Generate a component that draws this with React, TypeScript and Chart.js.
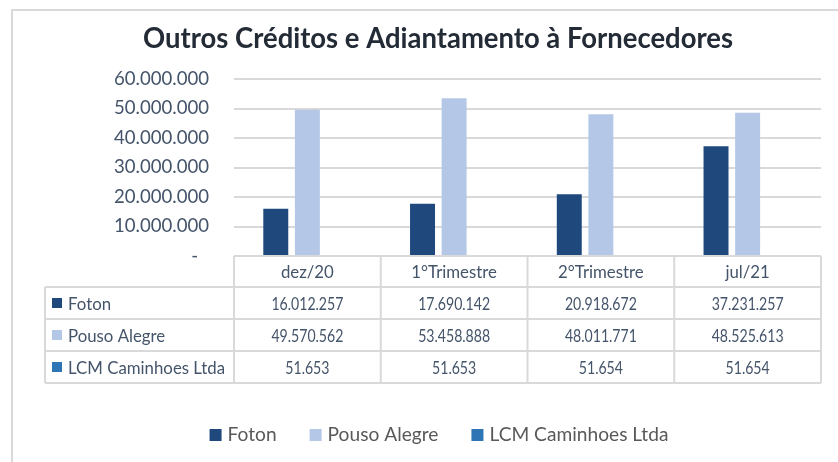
import React, { useEffect, useRef } from "react";
import { Chart, registerables } from "chart.js";

Chart.register(...registerables);

// ---- data ----
const TITLE = "Outros Créditos e Adiantamento à Fornecedores";
const categories = ["dez/20", "1°Trimestre", "2°Trimestre", "jul/21"];
const seriesNames = ["Foton", "Pouso Alegre", "LCM Caminhoes Ltda"];
const foton = [16012257, 17690142, 20918672, 37231257];
const pousoAlegre = [49570562, 53458888, 48011771, 48525613];
const lcmCaminhoes = [51653, 51653, 51654, 51654];
const yMin = 0;
const yMax = 60000000;
const yStep = 10000000;

// ---- styles ----
const seriesColors = ["#1F497D", "#B4C7E7", "#2E75B6"];
const FONT = "Lato, 'Open Sans', sans-serif";
const AXIS_TEXT = "#44546A";
const TABLE_TEXT = "#44546A";
const LEGEND_TEXT = "#595959";
const TITLE_TEXT = "#232B36";
const LINE = "#D9D9D9";

function fmt(n: number): string {
  return String(Math.round(n)).replace(/\B(?=(\d{3})+(?!\d))/g, ".");
}

function drawSqueezed(
  ctx: CanvasRenderingContext2D,
  text: string,
  x: number,
  y: number,
  font: string,
  sx: number,
  align: CanvasTextAlign,
  color: string
) {
  ctx.save();
  ctx.font = font;
  ctx.fillStyle = color;
  ctx.textAlign = align;
  ctx.textBaseline = "alphabetic";
  ctx.translate(x, y);
  ctx.scale(sx, 1);
  ctx.fillText(text, 0, 0);
  ctx.restore();
}

function ratio(ctx: CanvasRenderingContext2D, text: string, font: string, target: number) {
  ctx.save();
  ctx.font = font;
  const w = ctx.measureText(text).width;
  ctx.restore();
  return w > 0 ? target / w : 1;
}

const tablePlugin = {
  id: "tableAndDecor",
  afterDraw(chart: any) {
    const { ctx, chartArea } = chart;
    const xs = chart.scales.x;
    const n = categories.length;
    const band = (chartArea.right - chartArea.left) / n;
    const colEdges: number[] = categories.map((_, i) => xs.getPixelForValue(i) - band / 2);
    colEdges.push(xs.getPixelForValue(n - 1) + band / 2);

    // outer chart frame
    ctx.save();
    ctx.strokeStyle = LINE;
    ctx.lineWidth = 2;
    ctx.beginPath();
    ctx.moveTo(12, 462);
    ctx.lineTo(12, 10);
    ctx.lineTo(838, 10);
    ctx.stroke();
    ctx.restore();

    // title
    const titleFont = `bold 29px ${FONT}`;
    drawSqueezed(ctx, TITLE, 438, 48, titleFont, ratio(ctx, TITLE, titleFont, 590), "center", TITLE_TEXT);

    // data table
    const tableLeft = 45;
    const top = chartArea.bottom;
    const headerH = 31;
    const rowH = 32;
    const rows = [foton, pousoAlegre, lcmCaminhoes];
    const rowTops = rows.map((_, i) => top + headerH + i * rowH);
    const bottom = top + headerH + rows.length * rowH;

    ctx.save();
    ctx.strokeStyle = LINE;
    ctx.lineWidth = 2;
    ctx.beginPath();
    ctx.moveTo(colEdges[0], top);
    ctx.lineTo(colEdges[n], top);
    for (let r = 0; r <= rows.length; r++) {
      const y = top + headerH + r * rowH;
      ctx.moveTo(tableLeft, y);
      ctx.lineTo(colEdges[n], y);
    }
    ctx.moveTo(tableLeft, top + headerH);
    ctx.lineTo(tableLeft, bottom);
    for (const x of colEdges) {
      ctx.moveTo(x, top);
      ctx.lineTo(x, bottom);
    }
    ctx.stroke();
    ctx.restore();

    const cellFont = `18px ${FONT}`;
    const numSx = ratio(ctx, fmt(foton[0]), cellFont, 72);
    const txtSx = ratio(ctx, seriesNames[2], cellFont, 157);
    categories.forEach((c, i) => {
      drawSqueezed(ctx, c, xs.getPixelForValue(i), top + 22, cellFont, txtSx, "center", TABLE_TEXT);
    });
    rows.forEach((vals, r) => {
      const rt = rowTops[r];
      ctx.fillStyle = seriesColors[r];
      ctx.fillRect(52, rt + 11, 10, 10);
      drawSqueezed(ctx, seriesNames[r], 68, rt + 23, cellFont, txtSx, "left", TABLE_TEXT);
      vals.forEach((v, i) => {
        drawSqueezed(ctx, fmt(v), xs.getPixelForValue(i), rt + 23, cellFont, numSx, "center", TABLE_TEXT);
      });
    });

    // legend
    const legFont = `18.5px ${FONT}`;
    const legSx = ratio(ctx, seriesNames[2], legFont, 179);
    ctx.save();
    ctx.font = legFont;
    const widths = seriesNames.map((s) => ctx.measureText(s).width * legSx);
    ctx.restore();
    const box = 12;
    const boxGap = 6;
    const itemGap = 33;
    const total = widths.reduce((a, w) => a + box + boxGap + w, 0) + itemGap * (seriesNames.length - 1);
    let lx = 439 - total / 2;
    const base = 441;
    seriesNames.forEach((s, i) => {
      ctx.fillStyle = seriesColors[i];
      ctx.fillRect(lx, base - box, box, box);
      drawSqueezed(ctx, s, lx + box + boxGap, base, legFont, legSx, "left", LEGEND_TEXT);
      lx += box + boxGap + widths[i] + itemGap;
    });
  },
};

export default function App() {
  const ref = useRef<HTMLCanvasElement>(null);

  useEffect(() => {
    const canvas = ref.current;
    if (!canvas) return;
    const mctx = document.createElement("canvas").getContext("2d")!;
    mctx.font = `20px ${FONT}`;
    const tickSize = (20 * 95) / mctx.measureText(fmt(yMax)).width;

    const chart = new Chart(canvas, {
      type: "bar",
      data: {
        labels: categories,
        datasets: [
          { label: seriesNames[0], data: foton, backgroundColor: seriesColors[0] },
          { label: seriesNames[1], data: pousoAlegre, backgroundColor: seriesColors[1] },
          { label: seriesNames[2], data: lcmCaminhoes, backgroundColor: seriesColors[2] },
        ],
      },
      options: {
        responsive: false,
        animation: false,
        layout: { padding: { left: 0, right: 17, top: 79, bottom: 206 } },
        datasets: { bar: { categoryPercentage: 0.646, barPercentage: 0.79 } },
        plugins: {
          legend: { display: false },
          title: { display: false },
          tooltip: { enabled: false },
        },
        scales: {
          x: {
            grid: { display: false, drawTicks: false },
            ticks: { display: false },
            border: { display: false },
            afterFit: (s: any) => {
              s.height = 0;
            },
          },
          y: {
            min: yMin,
            max: yMax,
            grid: { color: LINE, lineWidth: 2, drawTicks: false },
            border: { display: false },
            ticks: {
              stepSize: yStep,
              padding: 25,
              color: AXIS_TEXT,
              font: { family: FONT, size: tickSize },
              callback: (v: any) => (Number(v) === 0 ? "-\u2007" : fmt(Number(v))),
            },
            afterFit: (s: any) => {
              s.width = 234;
            },
          },
        },
      } as any,
      plugins: [tablePlugin],
    });
    return () => chart.destroy();
  }, []);

  return (
    <div style={{ position: "fixed", left: 0, top: 0, width: 838, height: 462, background: "#ffffff" }}>
      <canvas ref={ref} width={838} height={462} style={{ display: "block" }} />
    </div>
  );
}
